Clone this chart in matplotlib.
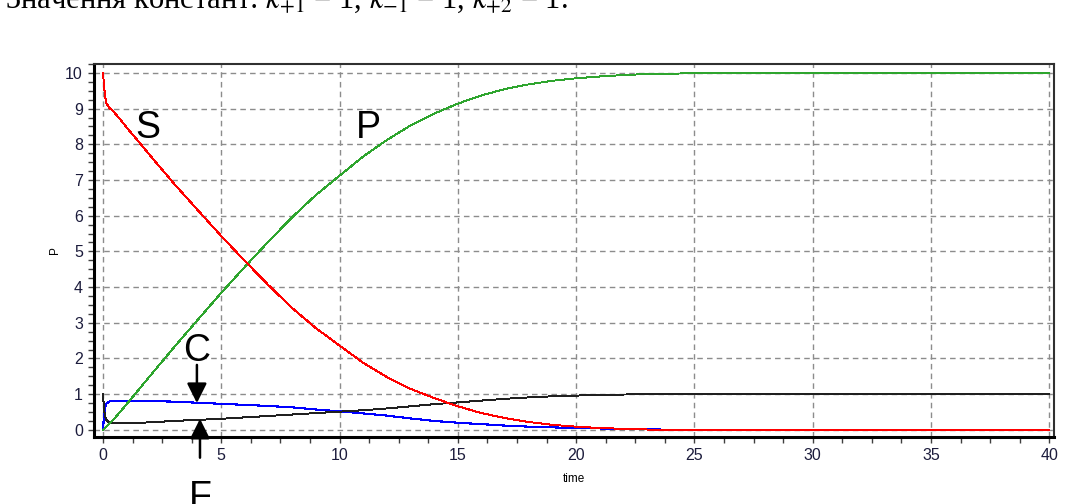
import numpy as np
import matplotlib
matplotlib.use("Agg")
import matplotlib.pyplot as plt
from matplotlib.ticker import MultipleLocator, AutoMinorLocator

plt.rcParams['font.family'] = ['Liberation Sans', 'DejaVu Sans']
plt.rcParams['mathtext.fontset'] = 'stix'

# values
t_s = [0, 0.05, 0.1, 0.15, 0.25, 0.4, 0.7, 1, 1.5, 2, 2.5, 3, 4, 5, 6, 7, 8, 9, 10,
       11, 12, 13, 14, 15, 16, 17, 18, 19, 20, 21, 22, 23, 24, 26, 30, 40]
S = [10, 9.6, 9.3, 9.15, 9.03, 8.95, 8.72, 8.47, 8.08, 7.68, 7.29, 6.9, 6.16, 5.43,
     4.73, 4.05, 3.41, 2.85, 2.36, 1.88, 1.48, 1.15, 0.89, 0.66, 0.47, 0.33, 0.22,
     0.14, 0.09, 0.05, 0.03, 0.01, 0.0, 0.0, 0.0, 0.0]

t_p = [0, 0.5, 1, 2, 3, 4, 5, 6, 7, 8, 9, 10, 11, 12, 13, 14, 15, 16, 17, 18, 19,
       20, 21, 22, 23, 24, 25, 26, 30, 40]
P = [0, 0.33, 0.72, 1.52, 2.31, 3.08, 3.84, 4.57, 5.28, 5.96, 6.58, 7.12, 7.66,
     8.12, 8.53, 8.86, 9.14, 9.37, 9.55, 9.68, 9.78, 9.85, 9.90, 9.94, 9.97, 9.98,
     9.99, 10.0, 10.0, 10.0]

t_c = [0, 0.04, 0.07, 0.1, 0.15, 0.25, 0.4, 1, 2, 3, 4, 5, 6, 7, 8, 9, 10, 11, 12,
       13, 14, 15, 16, 17, 18, 19, 20, 21, 22, 23, 24, 26, 30, 40]
C = [0, 0.38, 0.56, 0.66, 0.74, 0.79, 0.82, 0.82, 0.81, 0.79, 0.76, 0.73, 0.70,
     0.67, 0.63, 0.57, 0.52, 0.46, 0.40, 0.32, 0.25, 0.20, 0.16, 0.12, 0.09, 0.07,
     0.05, 0.04, 0.03, 0.02, 0.0, 0.0, 0.0, 0.0]

t_f = [0, 0.04, 0.07, 0.1, 0.15, 0.25, 0.4, 1, 2, 3, 4, 5, 6, 7, 8, 9, 10, 11, 12,
       13, 14, 15, 16, 17, 18, 19, 20, 21, 22, 23, 26, 30, 40]
F = [1.0, 0.62, 0.45, 0.35, 0.27, 0.21, 0.19, 0.19, 0.21, 0.25, 0.28, 0.31, 0.35,
     0.39, 0.43, 0.47, 0.51, 0.55, 0.60, 0.66, 0.72, 0.77, 0.82, 0.87, 0.91, 0.94,
     0.96, 0.98, 0.99, 1.0, 1.0, 1.0, 1.0]

fig = plt.figure(figsize=(10.75, 5.04), dpi=100)
ax = fig.add_axes([94 / 1075, 67 / 504, 960 / 1075, 373 / 504])

ax.plot(t_c, C, color='#0000ff', lw=0.8, antialiased=False)
ax.plot(t_f, F, color='#202020', lw=0.7, antialiased=False)
ax.plot(t_p, P, color='#2ea52e', lw=0.7, antialiased=False)
ax.plot(t_s, S, color='#ff0000', lw=0.7, antialiased=False)

ax.set_xlim(-0.38, 40.2)
ax.set_ylim(-0.2, 10.25)
ax.xaxis.set_major_locator(MultipleLocator(5))
ax.yaxis.set_major_locator(MultipleLocator(1))
ax.xaxis.set_minor_locator(AutoMinorLocator(4))
ax.yaxis.set_minor_locator(AutoMinorLocator(4))
ax.grid(True, which='major', color='#8c8c8c', ls=(0, (4, 3)), lw=1.0)
ax.tick_params(which='both', direction='out', length=4, width=1, color='#404040',
               labelsize=11.5, labelcolor='#1c1c3c', pad=4)
for side in ['left', 'bottom']:
    ax.spines[side].set_linewidth(2.2)
for side in ['top', 'right']:
    ax.spines[side].set_linewidth(1.5)
    ax.spines[side].set_color('#303030')

ax.set_xlabel('time', fontsize=8.5, labelpad=7)
ax.set_ylabel('P', fontsize=8.5, labelpad=3)

# big curve labels
ax.text(1.9, 8.45, 'S', fontsize=27, ha='center', va='center')
ax.text(11.2, 8.45, 'P', fontsize=27, ha='center', va='center')
ax.text(3.95, 2.2, 'C', fontsize=27, ha='center', va='center')
ax.annotate('', xy=(3.97, 0.75), xytext=(3.97, 1.82),
            arrowprops=dict(arrowstyle='-|>', color='black', lw=1.8,
                            mutation_scale=30, shrinkA=0, shrinkB=0))
ax.annotate('', xy=(4.1, 0.31), xytext=(4.1, -0.78), annotation_clip=False,
            arrowprops=dict(arrowstyle='-|>', color='black', lw=1.8,
                            mutation_scale=30, shrinkA=0, shrinkB=0))
ax.text(4.1, -1.9, 'F', fontsize=27, ha='center', va='center', clip_on=False)

fig.text(5 / 1075, 1 - 8 / 504,
         'Значення констант: $k_{+1}$ = 1, $k_{-1}$ = 1, $k_{+2}$ = 1.',
         fontsize=22, family=['Liberation Serif', 'DejaVu Serif'],
         ha='left', va='baseline')

fig.savefig('out.png', dpi=100)
